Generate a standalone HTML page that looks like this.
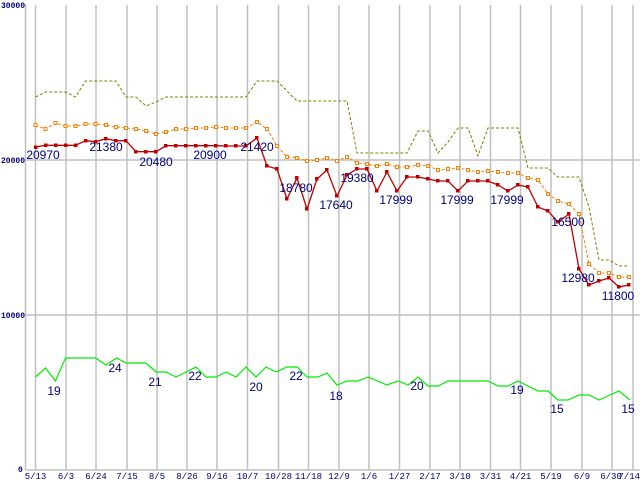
<!DOCTYPE html>
<html><head><style>body{margin:0;background:#fff}svg{display:block}</style></head><body>
<svg width="640" height="480" xmlns="http://www.w3.org/2000/svg" font-family="Liberation Sans, sans-serif">
<rect width="640" height="480" fill="#fff"/>
<g stroke="#c0c0c0" stroke-width="1.5">
<line x1="35.5" y1="5" x2="35.5" y2="470"/><line x1="66" y1="5" x2="66" y2="470"/><line x1="96" y1="5" x2="96" y2="470"/><line x1="127" y1="5" x2="127" y2="470"/><line x1="157" y1="5" x2="157" y2="470"/><line x1="187" y1="5" x2="187" y2="470"/><line x1="217" y1="5" x2="217" y2="470"/><line x1="247.5" y1="5" x2="247.5" y2="470"/><line x1="278.5" y1="5" x2="278.5" y2="470"/><line x1="308.5" y1="5" x2="308.5" y2="470"/><line x1="339" y1="5" x2="339" y2="470"/><line x1="369" y1="5" x2="369" y2="470"/><line x1="399.5" y1="5" x2="399.5" y2="470"/><line x1="430" y1="5" x2="430" y2="470"/><line x1="460" y1="5" x2="460" y2="470"/><line x1="490.5" y1="5" x2="490.5" y2="470"/><line x1="520.5" y1="5" x2="520.5" y2="470"/><line x1="551" y1="5" x2="551" y2="470"/><line x1="582" y1="5" x2="582" y2="470"/><line x1="612" y1="5" x2="612" y2="470"/><line x1="633" y1="5" x2="633" y2="470"/>
<line x1="25.5" y1="160" x2="640" y2="160"/><line x1="25.5" y1="315" x2="640" y2="315"/>
<line x1="25.5" y1="4" x2="25.5" y2="470"/><line x1="25.5" y1="470" x2="640" y2="470"/>
</g>
<g font-size="8" font-weight="bold" fill="#000080" font-family="Liberation Mono, monospace">
<text x="1" y="8">30000</text><text x="1" y="163">20000</text><text x="1" y="318">10000</text><text x="18" y="472">0</text>
</g>
<g font-size="9" fill="#000080" text-anchor="middle" font-family="Liberation Mono, monospace">
<text x="35.5" y="479">5/13</text><text x="66" y="479">6/3</text><text x="96" y="479">6/24</text><text x="127" y="479">7/15</text><text x="157" y="479">8/5</text><text x="187" y="479">8/26</text><text x="217" y="479">9/16</text><text x="247.5" y="479">10/7</text><text x="278.5" y="479">10/28</text><text x="308.5" y="479">11/18</text><text x="339" y="479">12/9</text><text x="369" y="479">1/6</text><text x="399.5" y="479">1/27</text><text x="430" y="479">2/17</text><text x="460" y="479">3/10</text><text x="490.5" y="479">3/31</text><text x="520.5" y="479">4/21</text><text x="551" y="479">5/19</text><text x="582" y="479">6/9</text><text x="611" y="479">6/30</text><text x="640" y="479" text-anchor="end">7/14</text>
</g>
<polyline fill="none" stroke="#808000" stroke-width="1" stroke-dasharray="3,2" points="35.5,97 45.5,92 55.5,92 65.5,92 75.5,97 85.5,81 95.5,81 106,81 116,81 126,97 136,97 146,106 156,102 166,97 246,97 257,81 277,81 297,101 347,101 357,153 407,153 418,131 428,131 438,153 448,142 458,128 468,128 478,156 488,128 518,128 528,168 548,168 558,177 579,177 589,207 599,260 609,260 619,266 629,266"/>
<polyline fill="none" stroke="#ff8000" stroke-width="1" stroke-dasharray="3,2" points="35.5,125 45.5,129 55.5,123 65.5,126 75.5,126 85.5,124 95.5,124 106,125 116,127 126,128 136,129 146,131 156,134 166,132 176,129 186,129 196,128 206,128 216,127 226,128 236,128 246,128 257,122 267,129 277,146 287,157 297,158 307,161 317,160 327,158 337,161 347,157 357,163 367,164 377,166 387,164 397,167 407,167 418,165 428,166 438,170 448,169 458,168 468,170 478,172 488,171 498,172 508,173 518,173 528,178 538,180 548,194 558,201 569,204 579,214 589,264 599,273 609,273 619,277 629,277"/>
<g fill="#fff" stroke="#ff8000" stroke-width="1">
<rect x="34" y="123.5" width="3" height="3"/><rect x="44" y="127.5" width="3" height="3"/><rect x="54" y="121.5" width="3" height="3"/><rect x="64" y="124.5" width="3" height="3"/><rect x="74" y="124.5" width="3" height="3"/><rect x="84" y="122.5" width="3" height="3"/><rect x="94" y="122.5" width="3" height="3"/><rect x="104.5" y="123.5" width="3" height="3"/><rect x="114.5" y="125.5" width="3" height="3"/><rect x="124.5" y="126.5" width="3" height="3"/><rect x="134.5" y="127.5" width="3" height="3"/><rect x="144.5" y="129.5" width="3" height="3"/><rect x="154.5" y="132.5" width="3" height="3"/><rect x="164.5" y="130.5" width="3" height="3"/><rect x="174.5" y="127.5" width="3" height="3"/><rect x="184.5" y="127.5" width="3" height="3"/><rect x="194.5" y="126.5" width="3" height="3"/><rect x="204.5" y="126.5" width="3" height="3"/><rect x="214.5" y="125.5" width="3" height="3"/><rect x="224.5" y="126.5" width="3" height="3"/><rect x="234.5" y="126.5" width="3" height="3"/><rect x="244.5" y="126.5" width="3" height="3"/><rect x="255.5" y="120.5" width="3" height="3"/><rect x="265.5" y="127.5" width="3" height="3"/><rect x="275.5" y="144.5" width="3" height="3"/><rect x="285.5" y="155.5" width="3" height="3"/><rect x="295.5" y="156.5" width="3" height="3"/><rect x="305.5" y="159.5" width="3" height="3"/><rect x="315.5" y="158.5" width="3" height="3"/><rect x="325.5" y="156.5" width="3" height="3"/><rect x="335.5" y="159.5" width="3" height="3"/><rect x="345.5" y="155.5" width="3" height="3"/><rect x="355.5" y="161.5" width="3" height="3"/><rect x="365.5" y="162.5" width="3" height="3"/><rect x="375.5" y="164.5" width="3" height="3"/><rect x="385.5" y="162.5" width="3" height="3"/><rect x="395.5" y="165.5" width="3" height="3"/><rect x="405.5" y="165.5" width="3" height="3"/><rect x="416.5" y="163.5" width="3" height="3"/><rect x="426.5" y="164.5" width="3" height="3"/><rect x="436.5" y="168.5" width="3" height="3"/><rect x="446.5" y="167.5" width="3" height="3"/><rect x="456.5" y="166.5" width="3" height="3"/><rect x="466.5" y="168.5" width="3" height="3"/><rect x="476.5" y="170.5" width="3" height="3"/><rect x="486.5" y="169.5" width="3" height="3"/><rect x="496.5" y="170.5" width="3" height="3"/><rect x="506.5" y="171.5" width="3" height="3"/><rect x="516.5" y="171.5" width="3" height="3"/><rect x="526.5" y="176.5" width="3" height="3"/><rect x="536.5" y="178.5" width="3" height="3"/><rect x="546.5" y="192.5" width="3" height="3"/><rect x="556.5" y="199.5" width="3" height="3"/><rect x="567.5" y="202.5" width="3" height="3"/><rect x="577.5" y="212.5" width="3" height="3"/><rect x="587.5" y="262.5" width="3" height="3"/><rect x="597.5" y="271.5" width="3" height="3"/><rect x="607.5" y="271.5" width="3" height="3"/><rect x="617.5" y="275.5" width="3" height="3"/><rect x="627.5" y="275.5" width="3" height="3"/>
</g>
<polyline fill="none" stroke="#c00000" stroke-width="1.3" points="35.5,147 45.5,145.3 55.5,145.3 65.5,145.3 75.5,145.3 85.5,140.7 95.5,141.7 106,138.7 116,140.7 126,140.7 136,151.7 146,151.7 156,151.7 166,145.7 176,145.7 186,145.7 196,145.7 206,145.7 216,145.7 226,146 236,146 246,146 257,138 267,166 277,169 287,199 297,178 307,209 317,179 327,170 337,196 347,175 357,169 367,169 377,191 387,172 397,191 407,177 418,177 428,179 438,181 448,181 458,191 468,181 478,181 488,181 498,185 508,191 518,185 528,187 538,207 548,211 558,222 569,214 579,269 589,285 599,281 609,278 619,287 629,285"/>
<g fill="#c00000">
<rect x="34" y="145.5" width="3.5" height="3.5"/><rect x="44" y="143.5" width="3.5" height="3.5"/><rect x="54" y="143.5" width="3.5" height="3.5"/><rect x="64" y="143.5" width="3.5" height="3.5"/><rect x="74" y="143.5" width="3.5" height="3.5"/><rect x="84" y="139" width="3.5" height="3.5"/><rect x="94" y="140" width="3.5" height="3.5"/><rect x="104" y="137" width="3.5" height="3.5"/><rect x="114" y="139" width="3.5" height="3.5"/><rect x="124" y="139" width="3.5" height="3.5"/><rect x="134" y="150" width="3.5" height="3.5"/><rect x="144" y="150" width="3.5" height="3.5"/><rect x="154" y="150" width="3.5" height="3.5"/><rect x="164" y="144" width="3.5" height="3.5"/><rect x="174" y="144" width="3.5" height="3.5"/><rect x="184" y="144" width="3.5" height="3.5"/><rect x="194" y="144" width="3.5" height="3.5"/><rect x="204" y="144" width="3.5" height="3.5"/><rect x="214" y="144" width="3.5" height="3.5"/><rect x="224" y="144" width="3.5" height="3.5"/><rect x="234" y="144" width="3.5" height="3.5"/><rect x="244" y="144" width="3.5" height="3.5"/><rect x="255" y="136" width="3.5" height="3.5"/><rect x="265" y="164" width="3.5" height="3.5"/><rect x="275" y="167" width="3.5" height="3.5"/><rect x="285" y="197" width="3.5" height="3.5"/><rect x="295" y="176" width="3.5" height="3.5"/><rect x="305" y="207" width="3.5" height="3.5"/><rect x="315" y="177" width="3.5" height="3.5"/><rect x="325" y="168" width="3.5" height="3.5"/><rect x="335" y="194" width="3.5" height="3.5"/><rect x="345" y="173" width="3.5" height="3.5"/><rect x="355" y="167" width="3.5" height="3.5"/><rect x="365" y="167" width="3.5" height="3.5"/><rect x="375" y="189" width="3.5" height="3.5"/><rect x="385" y="170" width="3.5" height="3.5"/><rect x="395" y="189" width="3.5" height="3.5"/><rect x="405" y="175" width="3.5" height="3.5"/><rect x="416" y="175" width="3.5" height="3.5"/><rect x="426" y="177" width="3.5" height="3.5"/><rect x="436" y="179" width="3.5" height="3.5"/><rect x="446" y="179" width="3.5" height="3.5"/><rect x="456" y="189" width="3.5" height="3.5"/><rect x="466" y="179" width="3.5" height="3.5"/><rect x="476" y="179" width="3.5" height="3.5"/><rect x="486" y="179" width="3.5" height="3.5"/><rect x="496" y="183" width="3.5" height="3.5"/><rect x="506" y="189" width="3.5" height="3.5"/><rect x="516" y="183" width="3.5" height="3.5"/><rect x="526" y="185" width="3.5" height="3.5"/><rect x="536" y="205" width="3.5" height="3.5"/><rect x="546" y="209" width="3.5" height="3.5"/><rect x="556" y="220" width="3.5" height="3.5"/><rect x="567" y="212" width="3.5" height="3.5"/><rect x="577" y="267" width="3.5" height="3.5"/><rect x="587" y="283" width="3.5" height="3.5"/><rect x="597" y="279" width="3.5" height="3.5"/><rect x="607" y="276" width="3.5" height="3.5"/><rect x="617" y="285" width="3.5" height="3.5"/><rect x="627" y="283" width="3.5" height="3.5"/>
</g>
<polyline fill="none" stroke="#00ee00" stroke-width="1.2" points="35.5,377 45.5,368 55.5,381 65.5,358 95.5,358 106,365 116.5,358 126,363 146,363 156,372 166,372 176,377 186,372 196,367 206,377 216,377 226,372 236,377 246,367 256,377 266,367 276,372 287,367 297,367 307,377 318,377 327,373 337,385 347,381 358,381 368,377 387,385 398,381 408,385 418,377 428,386 438,386 448,381 488,381 498,386 508,386 518,381 538,391 548,391 558,400 568,400 579,395 589,395 599,400 610,395 619,391 630,400"/>
<g font-size="12" fill="#000080" text-anchor="middle">
<text x="43" y="159">20970</text><text x="106" y="151">21380</text><text x="156" y="166">20480</text><text x="210" y="159">20900</text><text x="257" y="151">21420</text><text x="296" y="192">18780</text><text x="336" y="209">17640</text><text x="357" y="182">19380</text><text x="396" y="204">17999</text><text x="457" y="204">17999</text><text x="507" y="204">17999</text><text x="568" y="226">16500</text><text x="578" y="282">12980</text><text x="618" y="300">11800</text>
<text x="54" y="395">19</text><text x="115" y="372">24</text><text x="155" y="386">21</text><text x="195" y="380">22</text><text x="256" y="391">20</text><text x="296" y="380">22</text><text x="336" y="400">18</text><text x="417" y="390">20</text><text x="517" y="394">19</text><text x="557" y="413">15</text><text x="628" y="413">15</text>
</g>
</svg>
</body></html>
